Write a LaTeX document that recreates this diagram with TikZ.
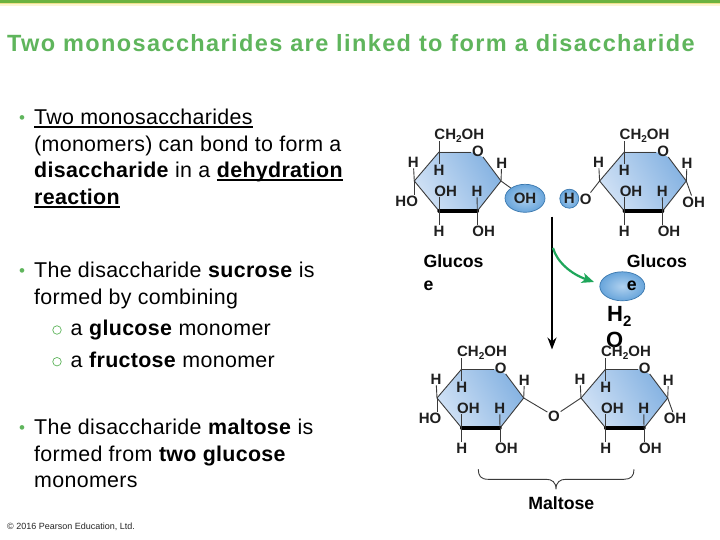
\documentclass[tikz,border=0pt]{standalone}
\usepackage{fontspec}
\setmainfont{Liberation Sans}
\usetikzlibrary{arrows.meta,shapes.geometric}
\definecolor{leaf}{HTML}{5FB55C}
\definecolor{barleaf}{HTML}{6CB33F}
\definecolor{barsand}{HTML}{F0E08C}
\definecolor{barpale}{HTML}{FBF5D2}
\definecolor{ringlight}{HTML}{D0E1F5}
\definecolor{ringdark}{HTML}{86B3E2}
\definecolor{balllight}{HTML}{B0D1EF}
\definecolor{balldark}{HTML}{68A5DB}
\definecolor{ballline}{HTML}{3B78AE}
\definecolor{bondgrey}{HTML}{3A3A3A}
\definecolor{swoop}{HTML}{1EA65A}
\newsavebox{\ulinebox}
% underline at a fixed distance below the baseline
\newcommand{\ulined}[1]{\sbox{\ulinebox}{#1}\rlap{\rule[-2.6pt]{\wd\ulinebox}{1.3pt}}\usebox{\ulinebox}}
\newcommand{\chtwo}{CH\raisebox{-2.5pt}{\fontsize{10}{10}\selectfont 2}OH}
\tikzset{
  x=1pt,y=-1pt,
  bodytxt/.style={anchor=base west,inner sep=0pt,font=\fontsize{21.4}{26}\addfontfeatures{LetterSpace=1.5}\selectfont},
  dotmark/.style={anchor=base,inner sep=0pt,text=leaf,font=\fontsize{17}{17}\selectfont},
  ringmark/.style={draw=leaf,circle,line width=0.7pt,minimum size=8.5pt,inner sep=0pt},
  atom/.style={inner sep=0.6pt,text=black!88,font=\fontsize{15}{15}\bfseries\selectfont,text height=10.7pt,text depth=0pt},
  bond/.style={draw=bondgrey,line width=0.9pt},
  heavybond/.style={draw=black,line width=3.4pt},
  labeltxt/.style={inner sep=0pt,anchor=base west,font=\fontsize{17.7}{17.7}\bfseries\selectfont},
  ballfill/.style={ellipse,draw=ballline,line width=0.7pt,inner color=balllight,outer color=balldark,inner sep=0pt},
}
% one six-membered sugar ring: prefix, x and y of its upper left corner
\newcommand{\sugarring}[3]{%
  \begin{scope}[shift={(#2,#3)}]
    \coordinate (#1-tl) at (0,0);
    \coordinate (#1-r) at (62,29);
    \coordinate (#1-br) at (38.3,59);
    \coordinate (#1-bl) at (0,59);
    \coordinate (#1-l) at (-24.7,29);
    \coordinate (#1-oa) at (32,0);
    \coordinate (#1-ob) at (44,5);
    \shade[left color=ringlight,right color=ringdark,shading angle=120]
      (#1-tl) -- (#1-oa) -- (#1-ob) -- (#1-r) -- (#1-br) -- (#1-bl) -- (#1-l) -- cycle;
    \node[atom] (#1-ring-o) at (39,-1) {O};
    \node[atom] (#1-ch) at (20.3,-17.7) {\chtwo};
    \node[atom] (#1-hl) at (-25.7,10.3) {H};
    \node[atom] (#1-hi) at (0,18.3) {H};
    \node[atom] (#1-hr) at (62.7,11) {H};
    \node[atom] (#1-ohi) at (6.7,39.3) {OH};
    \node[atom] (#1-hj) at (38,39.3) {H};
    \node[atom] (#1-hb) at (0,79) {H};
    \node[atom] (#1-ohb) at (44.7,79) {OH};
    \draw[bond] (#1-tl) -- (#1-oa);
    \draw[bond] (#1-ob) -- (#1-r) -- (#1-br);
    \draw[bond] (#1-bl) -- (#1-l) -- (#1-tl);
    \draw[heavybond,line cap=round] (#1-bl) -- (#1-br);
    \draw[bond] (#1-tl) -- (0,-11);
    \draw[bond] (#1-tl) -- (#1-hi);
    \draw[bond] (#1-l) -- (#1-hl);
    \draw[bond] (#1-r) -- (#1-hr);
    \draw[bond] (#1-bl) -- (#1-bl |- #1-ohi.south);
    \draw[bond] (#1-br) -- (#1-hj);
    \draw[bond] (#1-bl) -- (#1-hb);
    \draw[bond] (#1-br) -- (#1-br |- #1-ohb.north);
  \end{scope}}
\begin{document}
\begin{tikzpicture}
\useasboundingbox (0,0) rectangle (720,540);
\fill[white] (0,0) rectangle (720,540);
% top rule
\fill[barpale] (0,4.5) rectangle (720,6);
\fill[barsand] (0,3) rectangle (720,4.5);
\fill[barleaf] (0,0) rectangle (720,3.2);
% heading
\node[inner sep=0pt,anchor=base west,text=leaf,font=\fontsize{23.5}{24}\bfseries\addfontfeatures{LetterSpace=5.9}\selectfont] (heading) at (7,52) {Two monosaccharides are linked to form a disaccharide};
% bullet text
\node[dotmark] (d1) at (22,124) {•};
\node[bodytxt] (l1) at (34,125) {\ulined{Two monosaccharides}};
\node[bodytxt] (l2) at (34,152) {(monomers) can bond to form a};
\node[bodytxt] (l3) at (34,178) {\textbf{disaccharide} in a \textbf{\ulined{dehydration}}};
\node[bodytxt] (l4) at (34,205) {\textbf{\ulined{reaction}}};
\node[dotmark] (d2) at (22,276) {•};
\node[bodytxt] (l5) at (34,277) {The disaccharide \textbf{sucrose} is};
\node[bodytxt] (l6) at (34,304) {formed by combining};
\node[ringmark] (d3) at (57,330) {};
\node[bodytxt] (l7) at (70.5,335) {a \textbf{glucose} monomer};
\node[ringmark] (d4) at (57,361.7) {};
\node[bodytxt] (l8) at (70.5,367) {a \textbf{fructose} monomer};
\node[dotmark] (d5) at (22,433) {•};
\node[bodytxt] (l9) at (34,434) {The disaccharide \textbf{maltose} is};
\node[bodytxt] (l10) at (34,461) {formed from \textbf{two glucose}};
\node[bodytxt] (l11) at (34,487) {monomers};
\node[inner sep=0pt,anchor=base west,text=black!85,font=\fontsize{9}{10}\selectfont] (credit) at (7,529) {© 2016 Pearson Education, Ltd.};
% upper pair of rings
\sugarring{ga}{439}{152}
\sugarring{gb}{624.3}{152}
\node[atom] (ga-ho) at (406.7,201) {HO};
\draw[bond] (ga-l) -- (ga-ho.north -| ga-l);
\coordinate (oh-place) at (525,198.3);
\draw[bond] (ga-r) -- (oh-place);
\node[ballfill,minimum width=40pt,minimum height=28pt,font=\fontsize{15}{15}\bfseries\selectfont,text=black!88] (leaving-oh) at (oh-place) {OH};
\node[ballfill,minimum width=19pt,minimum height=19pt,font=\fontsize{15}{15}\bfseries\selectfont,text=black!88] (leaving-h) at (569.3,198.7) {H};
\node[atom] (gb-o) at (585.7,198.7) {O};
\draw[bond] (gb-l) -- (gb-o);
\node[atom] (gb-oh) at (693.7,201.7) {OH};
\draw[bond] (gb-r) -- (gb-oh);
% sugar names and the water drop
\node[labeltxt] (name-a) at (423.3,267.5) {Glucos};
\node[labeltxt] (name-a2) at (423.3,290.5) {e};
\node[ballfill,minimum width=45pt,minimum height=29pt] (water) at (622.3,286.3) {};
\node[labeltxt] (name-b) at (626.7,267.5) {Glucos};
\node[labeltxt] (name-b2) at (626.7,290.5) {e};
\node[inner sep=0pt,anchor=base west,font=\fontsize{22}{22}\bfseries\selectfont] (waterh) at (607,321) {H\raisebox{-5pt}{\fontsize{15}{15}\selectfont 2}};
\node[inner sep=0pt,anchor=base west,font=\fontsize{22}{22}\bfseries\selectfont] (watero) at (606,347) {O};
% reaction arrows
\coordinate (rxtop) at (552,216.7);
\coordinate (rxbot) at (552,349.5);
\coordinate (swoopfrom) at (553,248);
\coordinate (swoopto) at (594,282);
\draw[line width=2pt,-{Stealth[length=12pt,width=9pt,inset=4pt]}] (rxtop) -- (rxbot);
\draw[swoop,line width=2.2pt,-{Stealth[length=12pt,width=10pt,inset=3pt]}] (swoopfrom) .. controls (557,262) and (571,274) .. (swoopto);
% lower pair of rings
\sugarring{ma}{461.7}{369}
\sugarring{mb}{605.7}{369}
\node[atom] (ma-ho) at (430,418.3) {HO};
\draw[bond] (ma-l) -- (ma-ho.north -| ma-l);
\node[atom] (bridge) at (554,416) {O};
\draw[bond] (ma-r) -- (bridge);
\draw[bond] (mb-l) -- (bridge);
\node[atom] (mb-oh) at (675,418.3) {OH};
\draw[bond] (mb-r) -- (mb-oh);
% brace under the lower pair
\coordinate (bl) at (478.3,469.3);
\coordinate (br) at (634,469.3);
\coordinate (bm) at (556,489.3);
\draw[bondgrey,line width=0.9pt] (bl) .. controls (478.3,476) and (481,479.3) .. (488,479.3) -- (546,479.3) .. controls (552,479.3) and (556,482) .. (bm) .. controls (556,482) and (560,479.3) .. (566,479.3) -- (624,479.3) .. controls (631,479.3) and (634,476) .. (br);
\node[labeltxt,anchor=base] (maltose) at (561.3,509) {Maltose};
\end{tikzpicture}
\end{document}
